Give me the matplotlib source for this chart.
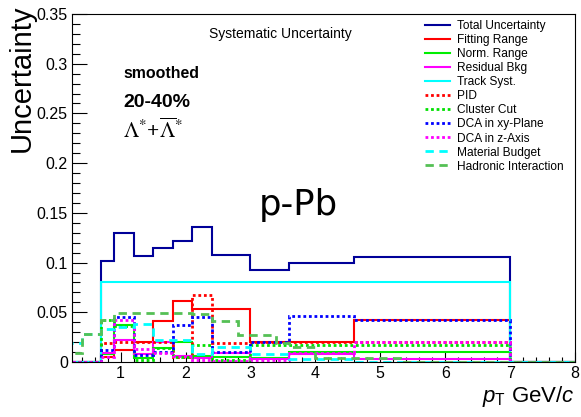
import matplotlib
matplotlib.use("Agg")
import matplotlib.pyplot as plt
from matplotlib.ticker import MultipleLocator, FixedLocator

# ---- data: relative systematic uncertainties per pT bin ----
edges = [0.0, 0.4, 0.7, 0.9, 1.2, 1.5, 1.8, 2.1, 2.4, 3.0, 3.6, 4.6, 7.0, 8.0]
hadronic_edges = [0.0, 0.4, 0.7, 0.9, 1.2, 1.5, 1.8, 2.1, 2.4, 2.8, 3.4, 3.6,
                  4.0, 5.3, 7.0, 8.0]

total_unc    = [0, 0, 0.102, 0.130, 0.107, 0.115, 0.122, 0.136, 0.108, 0.093, 0.100, 0.106, 0]
fitting      = [0, 0, 0.005, 0.012, 0.020, 0.041, 0.061, 0.053, 0.053, 0.020, 0.020, 0.042, 0]
norm_range   = [0, 0, 0.008, 0.037, 0.004, 0.014, 0.020, 0.006, 0.005, 0.004, 0.010, 0.010, 0]
residual_bkg = [0, 0, 0.009, 0.022, 0.008, 0.020, 0.006, 0.004, 0.009, 0.003, 0.008, 0.003, 0]
track_syst   = [0, 0, 0.080, 0.080, 0.080, 0.080, 0.080, 0.080, 0.080, 0.080, 0.080, 0.080, 0]
pid          = [0, 0, 0.019, 0.020, 0.020, 0.020, 0.005, 0.067, 0.019, 0.020, 0.020, 0.020, 0]
cluster_cut  = [0, 0, 0.042, 0.036, 0.002, 0.014, 0.005, 0.017, 0.002, 0.017, 0.017, 0.017, 0]
dca_xy       = [0, 0, 0.012, 0.045, 0.007, 0.010, 0.037, 0.045, 0.010, 0.020, 0.046, 0.042, 0]
dca_z        = [0, 0, 0.005, 0.042, 0.013, 0.009, 0.006, 0.002, 0.001, 0.002, 0.009, 0.020, 0]
material     = [0.019, 0.028, 0.033, 0.035, 0.038, 0.022, 0.022, 0.008, 0.015, 0.008, 0.003, 0.0, 0]
hadronic     = [0.009, 0.028, 0.042, 0.049, 0.049, 0.049, 0.049, 0.048, 0.041, 0.027,
                0.019, 0.015, 0.004, 0.0, 0]

labels = ["Total Uncertainty", "Fitting Range", "Norm. Range", "Residual Bkg",
          "Track Syst.", "PID", "Cluster Cut", "DCA in xy-Plane", "DCA in z-Axis",
          "Material Budget", "Hadronic Interaction"]

DOT = (0, (1.0, 1.0))
DASH = (0, (3.0, 2.0))
series = [
    (total_unc,    edges, "#000099", "-",  1.5),
    (fitting,      edges, "#ff0000", "-",  1.5),
    (norm_range,   edges, "#00ee00", "-",  1.5),
    (residual_bkg, edges, "#ff00ff", "-",  1.5),
    (track_syst,   edges, "#00ffff", "-",  1.5),
    (pid,          edges, "#ff0000", DOT,  2.0),
    (cluster_cut,  edges, "#00e000", DOT,  2.0),
    (dca_xy,       edges, "#0000ff", DOT,  2.0),
    (dca_z,        edges, "#ff00ff", DOT,  2.0),
    (material,     edges, "#00ffff", DASH, 2.0),
    (hadronic,     hadronic_edges, "#55c055", DASH, 2.0),
]

plt.rcParams["font.family"] = ["Liberation Sans", "DejaVu Sans"]
plt.rcParams["mathtext.fontset"] = "custom"
plt.rcParams["mathtext.rm"] = "Liberation Sans"
plt.rcParams["mathtext.it"] = "Liberation Sans:italic"
plt.rcParams["mathtext.bf"] = "Liberation Sans:bold"

fig = plt.figure(figsize=(5.81, 4.17), dpi=100)
ax = fig.add_axes([72 / 581, 1 - 362 / 417, 503 / 581, 348 / 417])

handles = []
for i, (vals, edg, col, ls, lw) in enumerate(series):
    ax.stairs(vals, edg, color=col, linestyle=ls, linewidth=lw,
              baseline=0, zorder=2 + i * 0.1)
    handles.append(plt.Line2D([], [], color=col, linestyle=ls, linewidth=lw))

ax.set_xlim(0.25, 8.0)
ax.set_ylim(0, 0.35)

ax.xaxis.set_major_locator(FixedLocator([1, 2, 3, 4, 5, 6, 7, 8]))
ax.xaxis.set_minor_locator(MultipleLocator(0.2))
ax.set_yticks([0, 0.05, 0.1, 0.15, 0.2, 0.25, 0.3, 0.35])
ax.set_yticklabels(["0", "0.05", "0.1", "0.15", "0.2", "0.25", "0.3", "0.35"])
ax.yaxis.set_minor_locator(MultipleLocator(0.01))

ax.tick_params(axis="both", which="both", direction="in", top=False, right=False,
               labelsize=11.5, width=0.8, colors="black")
ax.tick_params(axis="y", which="major", length=10.8, pad=3)
ax.tick_params(axis="y", which="minor", length=5.4)
ax.tick_params(axis="x", which="major", length=7.5, pad=3)
ax.tick_params(axis="x", which="minor", length=3.8)
for sp in ax.spines.values():
    sp.set_linewidth(0.8)
    sp.set_zorder(5)

leg = ax.legend(handles, labels, loc="upper left", bbox_to_anchor=(0.702, 0.982),
                frameon=False, borderpad=0, borderaxespad=0, handlelength=2.1,
                handletextpad=0.55, labelspacing=0.17,
                prop={"size": 8.6})

ax.text(0.4135, 0.931, "Systematic Uncertainty", transform=ax.transAxes,
        ha="center", va="baseline", fontsize=10)
ax.text(0.1014, 0.816, "smoothed", transform=ax.transAxes, ha="left",
        va="baseline", fontsize=11.4, fontweight="bold")
ax.text(0.1014, 0.733, "20-40%", transform=ax.transAxes, ha="left",
        va="baseline", fontsize=14, fontweight="bold")
ax.text(0.1014, 0.644, r"$\Lambda^{*}$+$\overline{\Lambda}^{*}$", transform=ax.transAxes,
        ha="left", va="baseline", fontsize=15.5, fontweight="bold",
        family=["Liberation Serif"], math_fontfamily="stix")
ax.text(0.449, 0.4224, "p-Pb", transform=ax.transAxes, ha="center",
        va="baseline", fontsize=25.5, family=["DejaVu Sans"])

fig.text(22 / 581, 1 - 4 / 417, "Uncertainty", rotation=90, ha="center",
         va="top", fontsize=21)
fig.text(575 / 581, 1 - 402 / 417, r"$p_{\mathrm{T}}$ GeV/$c$", ha="right",
         va="baseline", fontsize=16)

fig.savefig("out.png", dpi=100)
